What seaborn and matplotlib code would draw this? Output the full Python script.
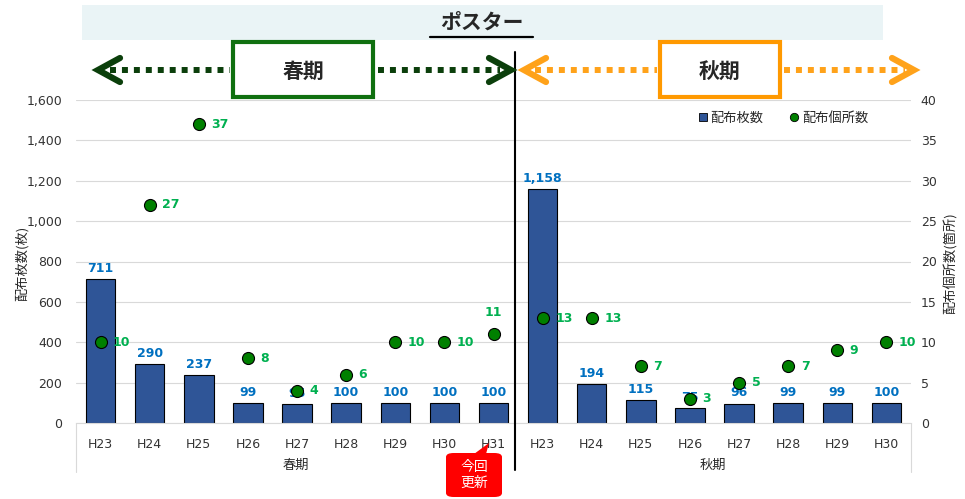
import numpy as np
import pandas as pd
import matplotlib
matplotlib.use("Agg")
import matplotlib.pyplot as plt
from matplotlib.lines import Line2D
from matplotlib.patches import Rectangle, FancyBboxPatch, Polygon
import seaborn as sns

# data
spring_years = ["H23", "H24", "H25", "H26", "H27", "H28", "H29", "H30", "H31"]
autumn_years = ["H23", "H24", "H25", "H26", "H27", "H28", "H29", "H30"]
spring_sheets = [711, 290, 237, 99, 95, 100, 100, 100, 100]
autumn_sheets = [1158, 194, 115, 75, 96, 99, 99, 100]
spring_places = [10, 27, 37, 8, 4, 6, 10, 10, 11]
autumn_places = [13, 13, 7, 3, 5, 7, 9, 10]

sns.set_style("white")
plt.rcParams["font.family"] = ["Noto Sans CJK JP", "DejaVu Sans"]

labels = spring_years + autumn_years
keys = ["春" + y for y in spring_years] + ["秋" + y for y in autumn_years]
sheets = spring_sheets + autumn_sheets
places = spring_places + autumn_places
df = pd.DataFrame({"key": keys, "label": labels, "sheets": sheets, "places": places})

W, H = 965, 499
def fx(px):
    return px / W
def fy(py):
    return 1 - py / H

fig = plt.figure(figsize=(W / 100, H / 100), dpi=100)
ax = fig.add_axes([fx(76), fy(423), (911 - 76) / W, (423 - 100) / H])

sns.barplot(data=df, x="key", y="sheets", order=keys, color="#2F5597", saturation=1,
            edgecolor="black", linewidth=0.8, width=0.6, ax=ax)
ax.bar_label(ax.containers[0], labels=[f"{v:,}" for v in sheets], padding=3,
             color="#0070C0", fontweight="bold", fontsize=9, family="DejaVu Sans")
ax.set_ylim(0, 1600)
ax.set_xlim(-0.5, len(keys) - 0.5)
ax.set_yticks(range(0, 1601, 200))
ax.set_yticklabels([f"{v:,}" for v in range(0, 1601, 200)], fontsize=9, color="#333333",
                   family="DejaVu Sans")
ax.set_xticks(range(len(keys)))
ax.set_xticklabels(labels, fontsize=9, color="#333333", family="DejaVu Sans")
ax.tick_params(axis="both", length=0)
ax.tick_params(axis="x", pad=11)
ax.tick_params(axis="y", pad=10)
ax.grid(axis="y", color="#D9D9D9", linewidth=0.8)
ax.set_axisbelow(True)
ax.set_xlabel("")
ax.set_ylabel("")
for s in ["top", "left", "right"]:
    ax.spines[s].set_visible(False)
ax.spines["bottom"].set_color("#D9D9D9")

ax2 = ax.twinx()
sns.scatterplot(x=np.arange(len(places)), y=places, ax=ax2, color="#008000",
                edgecolor="black", linewidth=0.8, s=75, zorder=4, legend=False)
ax2.set_ylim(0, 40)
ax2.set_yticks(range(0, 41, 5))
ax2.set_yticklabels([str(v) for v in range(0, 41, 5)], fontsize=9, color="#333333",
                    family="DejaVu Sans")
ax2.tick_params(axis="y", length=0, pad=7)
ax2.set_ylabel("")
for s in ax2.spines.values():
    s.set_visible(False)
for i, v in enumerate(places):
    if keys[i] == "春H31":
        ax2.annotate(str(v), (i, v), xytext=(0, 11), textcoords="offset points",
                     ha="center", va="bottom", color="#00B050", fontweight="bold",
                     fontsize=9, family="DejaVu Sans")
    else:
        ax2.annotate(str(v), (i, v), xytext=(9, 0), textcoords="offset points",
                     ha="left", va="center", color="#00B050", fontweight="bold",
                     fontsize=9, family="DejaVu Sans")

# legend
handles = [Line2D([], [], marker="s", ls="", markersize=6, markerfacecolor="#2F5597",
                  markeredgecolor="black", markeredgewidth=0.6),
           Line2D([], [], marker="o", ls="", markersize=6, markerfacecolor="#008000",
                  markeredgecolor="black", markeredgewidth=0.6)]
fig.legend(handles, ["配布枚数", "配布個所数"], loc="center", ncol=2, frameon=False,
           bbox_to_anchor=(fx(782), fy(118)), fontsize=9.5, handletextpad=0.1,
           columnspacing=1.8, handlelength=1)

# axis titles
fig.text(fx(22), fy(263), "配布枚数(枚)", rotation=90, ha="center", va="center", fontsize=9.5)
fig.text(fx(951), fy(263), "配布個所数(箇所)", rotation=90, ha="center", va="center", fontsize=9.5)

# group labels and category box lines
fig.text(fx(296), fy(465), "春期", ha="center", va="center", fontsize=9.5)
fig.text(fx(713), fy(465), "秋期", ha="center", va="center", fontsize=9.5)
for x in [76, 911]:
    fig.add_artist(Line2D([fx(x), fx(x)], [fy(423), fy(472)], color="#D9D9D9", lw=0.8))
fig.add_artist(Line2D([fx(515), fx(515)], [fy(52), fy(470)], color="black", lw=1.5))

# title band
fig.add_artist(Rectangle((fx(82), fy(40)), fx(883) - fx(82), fy(5) - fy(40),
                         transform=fig.transFigure, facecolor="#EAF4F6", edgecolor="none"))
fig.text(fx(482), fy(22), "ポスター", ha="center", va="center", fontsize=15, fontweight="bold")
fig.add_artist(Line2D([fx(430), fx(533)], [fy(37), fy(37)], color="black", lw=1.6))

# season arrows
def chevron(tip, direction, color):
    x0, y0 = tip
    xa = x0 - 22 * direction
    fig.add_artist(Line2D([fx(xa), fx(x0), fx(xa)], [fy(y0 - 12), fy(y0), fy(y0 + 12)],
                          color=color, lw=4.5, solid_capstyle="round",
                          solid_joinstyle="miter"))

def dots(x1, x2, color):
    fig.add_artist(Line2D([fx(x1), fx(x2)], [fy(70), fy(70)], color=color, lw=4.3,
                          linestyle=(0, (1, 1)), dash_capstyle="butt"))

green_dark = "#0B3F0B"
orange = "#FFA21A"
dots(110, 230, green_dark)
dots(378, 500, green_dark)
chevron((98, 70), -1, green_dark)
chevron((511, 70), 1, green_dark)
dots(535, 657, orange)
dots(784, 905, orange)
chevron((524, 70), -1, orange)
chevron((914, 70), 1, orange)

for (x1, x2, col, txt) in [(233, 373, "#107010", "春期"), (660, 780, "#FF9900", "秋期")]:
    fig.add_artist(Rectangle((fx(x1), fy(97)), fx(x2) - fx(x1), fy(42) - fy(97),
                             transform=fig.transFigure, facecolor="white", edgecolor=col,
                             lw=3))
    fig.text(fx((x1 + x2) / 2), fy(71), txt, ha="center", va="center", fontsize=15,
             fontweight="bold")

# callout
fig.add_artist(Polygon([[fx(474), fy(454)], [fx(486), fy(454)], [fx(489), fy(443)]],
                       closed=True, transform=fig.transFigure, facecolor="#FF0000",
                       edgecolor="none"))
fig.add_artist(FancyBboxPatch((fx(446), fy(497)), fx(502) - fx(446), fy(453) - fy(497),
                              boxstyle="round,pad=0,rounding_size=0.008",
                              transform=fig.transFigure, facecolor="#FF0000",
                              edgecolor="none"))
fig.text(fx(474), fy(475), "今回\n更新", ha="center", va="center", fontsize=10,
         color="white", linespacing=1.2)

fig.savefig("out.png", dpi=100)
